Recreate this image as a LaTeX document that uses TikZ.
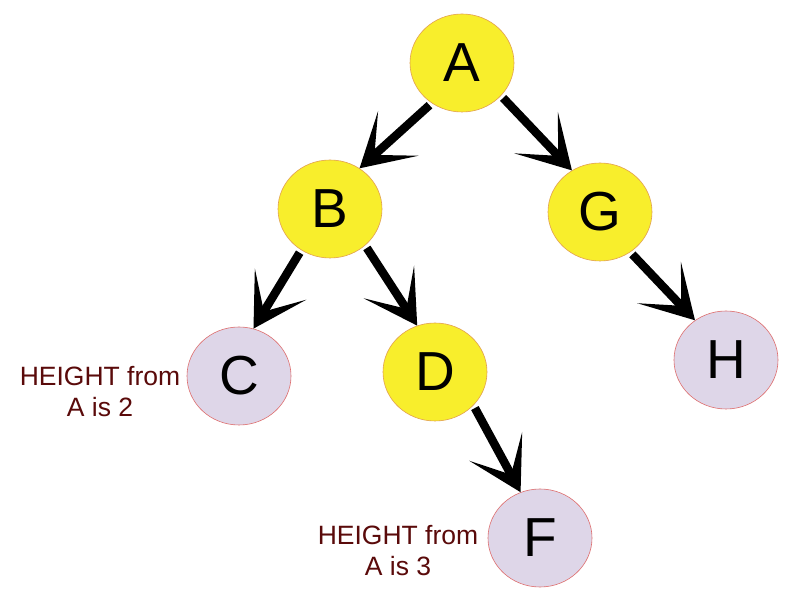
\documentclass[tikz,border=0pt]{standalone}
\usepackage{fontspec}
\setmainfont{Liberation Sans}
\usetikzlibrary{shapes.geometric,arrows.meta}
\definecolor{nodeyellow}{RGB}{248,238,44}
\definecolor{yellowedge}{RGB}{226,160,80}
\definecolor{nodelav}{RGB}{222,214,232}
\definecolor{lavedge}{RGB}{222,110,110}
\definecolor{labcol}{RGB}{90,10,10}
\tikzset{
  treenode/.style={ellipse, minimum width=104pt, minimum height=98pt, inner sep=0pt,
    font=\fontsize{55}{55}\selectfont, line width=0.6pt},
  yel/.style={treenode, fill=nodeyellow, draw=yellowedge},
  lav/.style={treenode, fill=nodelav, draw=lavedge},
  arr/.style={line width=8.5pt, black, shorten <=3pt,
    -{Stealth[length=52pt,width=60pt,inset=32pt]}},
  heightlab/.style={align=center, text=labcol, font=\fontsize{26.5}{31}\selectfont}
}
\begin{document}
\begin{tikzpicture}[x=1pt,y=1pt]
\useasboundingbox (0,0) rectangle (800,599);
\fill[white] (0,0) rectangle (800,599);
\node[yel] (A) at (462,536) {A};
\node[yel] (B) at (330,390) {B};
\node[yel] (G) at (600,387) {G};
\node[lav] (C) at (239,223) {C};
\node[yel] (D) at (435,227) {D};
\node[lav] (H) at (726,239) {H};
\node[lav] (F) at (540,61) {F};
\node[heightlab] (l1) at (100,207) {HEIGHT from\\A is 2};
\node[heightlab] (l2) at (398,48) {HEIGHT from\\A is 3};
\draw[arr] (A.-127) -- (B.54);
\draw[arr] (A.-40) -- (G.124);
\draw[arr] (B.-125) -- (C.73);
\draw[arr] (B.-46) -- (D.111);
\draw[arr] (G.-53) -- (H.128);
\draw[arr] (D.-41) -- (F.113);
\end{tikzpicture}
\end{document}
